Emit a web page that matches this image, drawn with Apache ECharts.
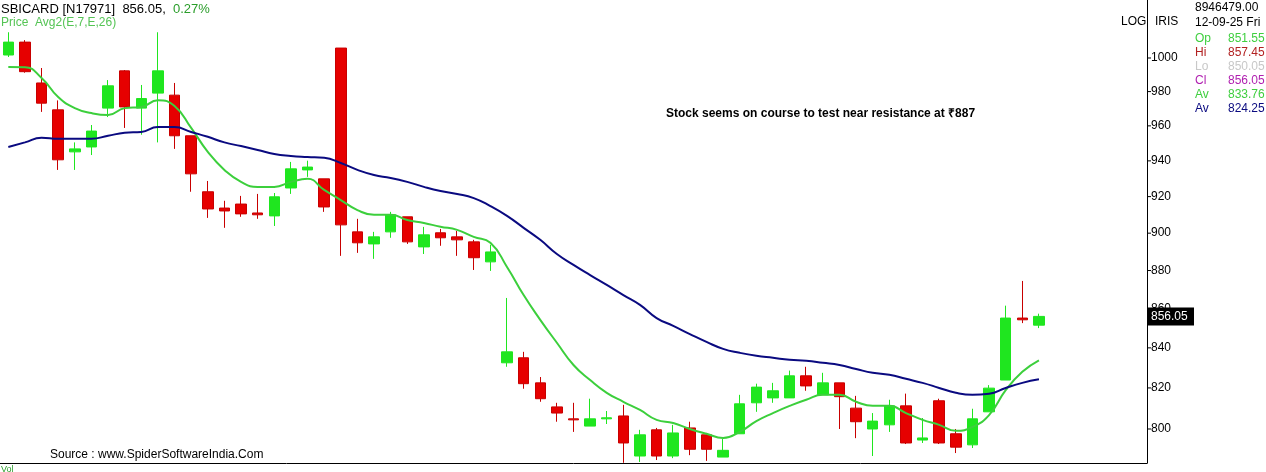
<!DOCTYPE html>
<html><head><meta charset="utf-8">
<script src="https://cdn.jsdelivr.net/npm/echarts@6/dist/echarts.min.js"></script>
<style>html,body{margin:0;padding:0;background:#fff}#c{width:1266px;height:472px}</style>
</head><body><div id="c"></div>
<script>
const opens  = [1001.8,1009.6,985.1,969.3,945.1,947.9,970.3,992.3,970.3,979.1,977.9,954.3,922.7,913.7,915.9,911,909.4,924.8,934.9,929.9,1006,900.7,894.2,900.7,908.9,892.6,900.2,898,895.3,884.6,832.5,835,822.5,810.7,804.9,801.4,804.9,806.3,787.1,799.6,787.1,800.5,797.2,786.6,797.7,812.7,815.1,815.1,826,816.6,822.5,810.1,800,802,811.2,794.7,813.7,797.7,792.4,808.3,823.9,855.2,851.55];
const closes = [1009.6,991.8,973.2,940.6,946.8,957,983.4,971,975.9,992.3,954.3,932.7,913.2,912.1,910.5,910,919.9,935.5,936.5,914.3,904.5,894.8,898,910,895.3,899.1,897.5,896.4,886.8,889.9,838,822.1,814.7,807.7,804.4,804.9,805.4,793.3,797.2,787.1,798.1,790.3,790.3,789.8,812.2,820.4,818.6,826,821,822.5,815.7,803.5,803.8,811.2,793.3,795.7,793.3,791.3,804.9,819.9,855.2,854.3,856.05];
const lows   = [1000.6,991.2,968.1,934.9,934.9,943.3,965.1,958.8,954.9,950.5,946.8,922.7,908.3,902.9,908.9,907.8,903.9,921.5,931,911.6,887.8,889.4,886.2,897.5,894.2,888.8,893.2,887.8,880.3,879.8,830.5,819.6,813.2,803.5,798.6,801.4,802.4,783.9,784.3,785.2,786.1,787.5,784.8,786.6,797.7,808.3,812.7,815.1,818.6,816.6,800,795.6,787.1,798.6,792.8,793.3,792.8,788.5,790.9,808.3,823.9,852.6,850.05];
const highs  = [1015.6,1010.8,994,974.8,950.5,960.5,986.8,992.8,983.9,1015.6,985.1,954.3,928.7,917.7,920.4,921.5,922,939.4,940.1,929.9,1006,907.8,900.7,911.6,908.9,903.4,902.3,901.2,896.4,893.7,865.6,838,825.4,812.7,812.7,814.7,808.7,811.7,799.6,800.5,802,803.5,798.1,795.2,816.6,822.1,822.5,828.6,830.5,827.5,822.5,816.1,807.7,814.2,817.2,805.3,814.7,800,809.8,821.4,861.6,874.5,857.45];
const avgFast = [994.6,994.5,988.1,976.8,970.3,967.4,966.3,970.3,971,974.9,971.5,958.8,945.1,934.9,928.2,925.4,925.4,928.2,929.9,923.7,918.1,912.6,910,910,907.2,905.5,903.5,901.8,898,894.8,881.9,867.1,854.3,842.6,831.4,823.9,817.6,813.2,809.2,804.4,802.9,800,797.7,795.7,798.6,803.8,807.7,811.2,814.2,816.6,816.6,813.2,811.2,811.2,807.7,804.4,802,799.1,801,806.7,818.9,828,833.76];
const avgSlow = [947.9,950.5,953.2,952.6,952.6,952.6,954.3,956,956.5,959.3,959.3,956.5,953.7,950.5,948.4,946.2,943.9,942.8,942.2,941.7,938.8,934.9,932,930.4,928.2,925.4,923.1,921.5,919.2,914.8,909.4,902.9,896.4,888.8,883,877.6,872.4,867.1,862,855.2,851.2,847,843,839.5,837.5,836,835,834,833.5,832.5,831.4,829.4,827.5,826.5,824.5,822.5,820,817.6,816.6,817.1,820,822.5,824.25];
const padSlots = 6;
const yTicks = [800,820,840,860,880,900,920,940,960,980,1000];

const cats = opens.map((_, i) => 'd' + i).concat(Array.from({length: padSlots}, (_, i) => 'p' + i));
const candles = opens.map((o, i) => [o, closes[i], lows[i], highs[i]]);
const chart = echarts.init(document.getElementById('c'));
const F = 'Liberation Sans';
const T = (l, t, s, fill, extra) => Object.assign({type: 'text', left: l, top: t, style: Object.assign({text: s, fontFamily: F, fontSize: 12, fill: fill})}, extra || {});
chart.setOption({
  animation: false,
  grid: {left: 0, right: 119, top: 0, bottom: 9},
  xAxis: {type: 'category', data: cats, boundaryGap: true,
    axisLine: {show: true, lineStyle: {color: '#000'}}, axisTick: {show: false}, axisLabel: {show: false}, splitLine: {show: false}},
  yAxis: {type: 'log', logBase: 10, position: 'right', min: 783.8, max: 1035.5,
    axisLine: {show: true, lineStyle: {color: '#000'}},
    axisTick: {show: false}, axisLabel: {show: false}, splitLine: {show: false}},
  series: [
    {type: 'candlestick', data: candles, barWidth: 11,
     itemStyle: {color: '#1fe61f', color0: '#e60000', borderColor: '#1fe61f', borderColor0: '#c80000', borderWidth: 1}},
    {type: 'line', data: avgFast, smooth: true, symbol: 'none', lineStyle: {color: '#3ccf3c', width: 2}, z: 3},
    {type: 'line', data: avgSlow, smooth: true, symbol: 'none', lineStyle: {color: '#0a0a80', width: 2}, z: 3}
  ]
});
const g = [
  {type: 'text', left: 1, top: 3, style: {text: '{a|SBICARD [N17971]  856.05,  }{b|0.27%}', rich: {a: {fontFamily: F, fontSize: 13, fill: '#000'}, b: {fontFamily: F, fontSize: 13, fill: '#2a9d2a'}}}},
  T(1, 17, 'Price  Avg2(E,7,E,26)', '#55c455'),
  {type: 'text', left: 666, top: 108, style: {text: 'Stock seems on course to test near resistance at ₹887', fontFamily: F, fontSize: 12, fontWeight: 'bold', fill: '#000'}},
  T(50, 449, 'Source : www.SpiderSoftwareIndia.Com', '#000'),
  T(1, 465, 'Vol', '#2a9d2a', {style: {text: 'Vol', fontFamily: F, fontSize: 9, fill: '#2a9d2a'}}),
  T(1121, 16, 'LOG', '#000'), T(1155, 16, 'IRIS', '#000'),
  T(1195, 2, '8946479.00', '#000'), T(1195, 17, '12-09-25 Fri', '#000'),
  T(1195, 33, 'Op', '#3fcf3f'), T(1228, 33, '851.55', '#3fcf3f'),
  T(1195, 47, 'Hi', '#b22222'), T(1228, 47, '857.45', '#b22222'),
  T(1195, 61, 'Lo', '#c8c8c8'), T(1228, 61, '850.05', '#c8c8c8'),
  T(1195, 75, 'Cl', '#b01fb0'), T(1228, 75, '856.05', '#b01fb0'),
  T(1195, 89, 'Av', '#3fcf3f'), T(1228, 89, '833.76', '#3fcf3f'),
  T(1195, 103, 'Av', '#0a0a80'), T(1228, 103, '824.25', '#0a0a80')
];
yTicks.forEach(v => {
  const y = chart.convertToPixel({yAxisIndex: 0}, v);
  g.push({type: 'line', shape: {x1: 1147, y1: y, x2: 1151, y2: y}, style: {stroke: '#000', lineWidth: 1}});
  g.push({type: 'text', x: 1151, y: y, style: {text: String(v), fontFamily: F, fontSize: 12, fill: '#000', verticalAlign: 'middle'}});
});
const py = chart.convertToPixel({yAxisIndex: 0}, closes[closes.length - 1]);
g.push({type: 'rect', shape: {x: 1148, y: py - 9, width: 46, height: 18}, style: {fill: '#000'}});
g.push({type: 'text', x: 1151, y: py, style: {text: '856.05', fontFamily: F, fontSize: 12, fill: '#fff', verticalAlign: 'middle'}});
chart.setOption({graphic: g});
</script></body></html>
